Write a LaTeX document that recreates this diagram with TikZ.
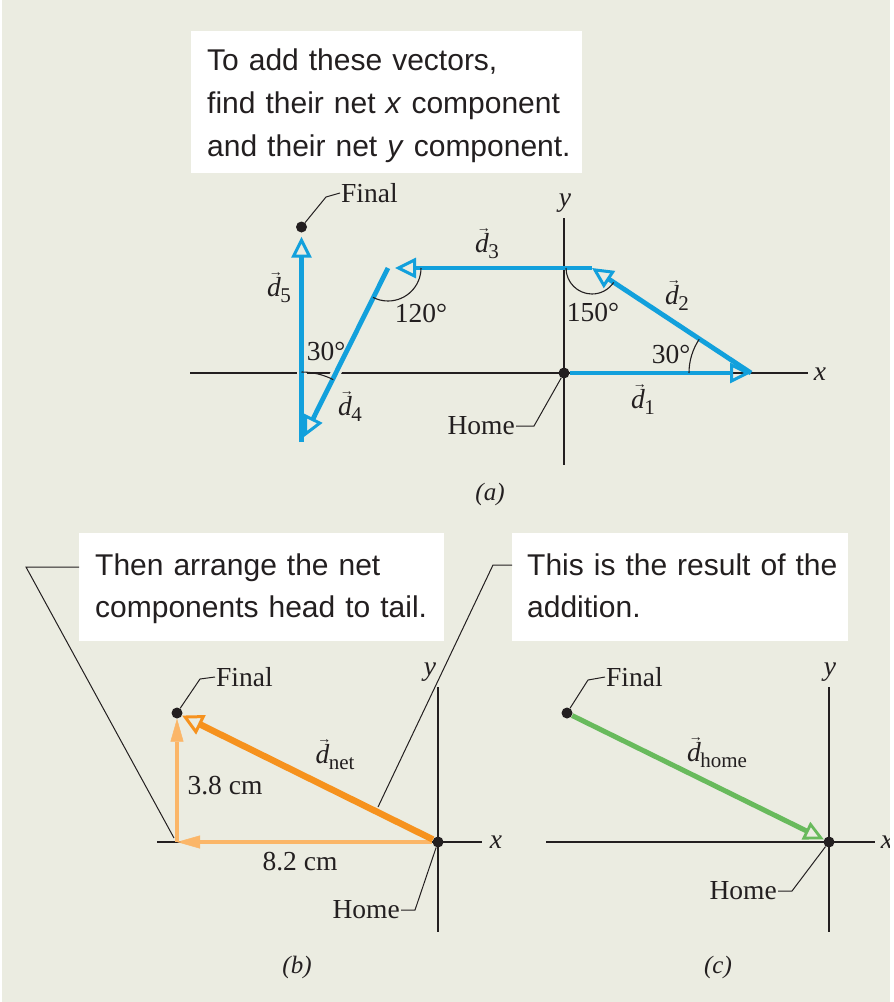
\documentclass[tikz,border=0pt]{standalone}
\usepackage{fontspec}
\setmainfont{Liberation Serif}
\setsansfont{Liberation Sans}
\usetikzlibrary{arrows.meta}
\definecolor{bgc}{RGB}{235,236,225}
\definecolor{ink}{RGB}{35,31,32}
\definecolor{vblue}{RGB}{18,160,220}
\definecolor{dorange}{RGB}{246,146,30}
\definecolor{lorange}{RGB}{251,182,104}
\definecolor{vgreen}{RGB}{104,186,92}
\newcommand\vd[1]{\textit{d}\llap{\raisebox{20pt}{\fontsize{14}{14}\selectfont →}\kern-2pt}\kern-0.5pt\raisebox{-6pt}{\fontsize{21}{21}\selectfont #1}}
\begin{document}
\begin{tikzpicture}[x=1pt,y=-1pt,
  every node/.style={inner sep=1pt, text=ink, font=\fontsize{27.5}{30}\selectfont},
  ax/.style={draw=ink, line width=1.5pt},
  lead/.style={draw=ink, line width=1pt},
  arcl/.style={draw=ink, line width=1.1pt},
  halo/.style={draw=bgc, line width=10pt},
  dotn/.style={circle, fill=ink, inner sep=0pt, minimum size=11pt},
  vecb/.style={draw=vblue, line width=4.8pt, -{Triangle[open, length=21pt, width=20pt, line width=3pt]}},
  comp/.style={draw=lorange, line width=4.5pt, -{Triangle[length=23pt, width=13pt, line width=0.5pt]}},
  dnetA/.style={draw=dorange, line width=6.5pt, -{Triangle[open, length=21pt, width=21pt, line width=3pt]}},
  dhomeA/.style={draw=vgreen, line width=5pt, -{Triangle[open, length=20pt, width=19pt, line width=2.8pt]}},
  tbox/.style={fill=white, inner sep=0pt, anchor=north west},
  btext/.style={font=\sffamily\fontsize{30}{43}\selectfont, align=left, inner sep=0pt, anchor=base west, text width=#1},
  captxt/.style={font=\fontsize{25}{28}\selectfont},
]
\useasboundingbox (0,0) rectangle (894,1002);
\fill[bgc] (0,0) rectangle (894,1002);

% ---------- coordinates ----------
\coordinate (p1) at (751,373);
\coordinate (p2) at (592,268);
\coordinate (p3t) at (395,268);
\coordinate (p3) at (388,268);
\coordinate (p4) at (304,437);
\coordinate (p5) at (301.5,442);
\coordinate (cb) at (177,842);

% ---------- text boxes ----------
\node[tbox, minimum width=391pt, minimum height=142pt] (boxa) at (190.5,30.5) {};
\node[btext=370pt] (txta) at (207,70) {To add these vectors,\\find their net \textit{x} component\\and their net \textit{y} component.};
\node[tbox, minimum width=365pt, minimum height=108pt] (boxb) at (79,533) {};
\node[btext=345pt, font=\sffamily\fontsize{30}{42}\selectfont] (txtb) at (95,575) {Then arrange the net\\components head to tail.};
\node[tbox, minimum width=336pt, minimum height=108pt] (boxc) at (512,533) {};
\node[btext=320pt, font=\sffamily\fontsize{30}{42}\selectfont] (txtc) at (527,575) {This is the result of the\\addition.};

% ---------- axes ----------
\draw[ax] (190,373) -- (808,373);
\draw[ax] (564,218) -- (564,465);
\draw[ax] (157,842) -- (482,842);
\draw[ax] (438,687) -- (438,932);
\draw[ax] (546,842) -- (875,842);
\draw[ax] (829,687) -- (829,932);

% ---------- dots ----------
\node[dotn] (ha) at (564,373) {};
\node[dotn] (fa) at (301.5,227) {};
\node[dotn] (hb) at (438,842) {};
\node[dotn] (fb) at (177,713) {};
\node[dotn] (hc) at (829,842) {};
\node[dotn] (fc) at (567,713) {};

% ---------- (a) vectors ----------
\draw[halo] (p5) -- (fa);
\draw[halo] (p3) -- (p4);
\draw[vecb] (ha) -- (p1);
\draw[vecb] (p1) -- (p2);
\draw[vecb] (p2) -- (p3t);
\draw[vecb] (p3) -- (p4);
\draw[vecb, shorten >=4pt] (p5) -- (fa);

% angle arcs
\draw[arcl] (301.5,372) arc[start angle=-90, end angle=-63, radius=70];
\draw[arcl] (421,268) arc[start angle=0, end angle=117, radius=33];
\draw[arcl] (566,268) arc[start angle=180, end angle=33.6, radius=26];
\draw[arcl] (689,373) arc[start angle=180, end angle=213.6, radius=61];

% labels (a)
\node (lfa) [anchor=west] at (340,193) {Final};
\node (lha) [anchor=east] at (516,426) {Home};
\node (ld1) at (643,400) {\vd{1}};
\node (ld2) at (677,296) {\vd{2}};
\node (ld3) at (487,244) {\vd{3}};
\node (ld4) at (350,407) {\vd{4}};
\node (ld5) at (279,288) {\vd{5}};
\node (a120) at (421,313) {120°};
\node (a30l) at (326,351) {30°};
\node (a150) at (593,312) {150°};
\node (a30r) at (671,354) {30°};
\node (ya) at (565,203) {\textit{y}};
\node (xa) at (820,374) {\textit{x}};
\node[captxt] (capa) at (490,494) {\textit{(a)}};
\coordinate (fak) at (326,197);
\draw[lead] (fa) -- (fak) -- (lfa.west);
\coordinate (hak) at (534,426);
\draw[lead] (lha.east) -- (hak) -- (ha);

% ---------- (b) ----------
\draw[comp] (hb) -- (cb);
\draw[comp] (cb) -- (fb);
\draw[dnetA] (hb) -- (fb);
\node (lfb) [anchor=west] at (215,677) {Final};
\node (lhb) [anchor=east] at (401,910) {Home};
\node (ldnet) at (335,755) {\vd{net}};
\node (l38) at (225,786) {3.8 cm};
\node (l82) at (300,862) {8.2 cm};
\node (yb) at (430,672) {\textit{y}};
\node (xb) at (496,842) {\textit{x}};
\node[captxt] (capb) at (297,967) {\textit{(b)}};
\coordinate (fbk) at (200,679);
\draw[lead] (fb) -- (fbk) -- (lfb.west);
\coordinate (hbk) at (415,910);
\draw[lead] (lhb.east) -- (hbk) -- (hb);

% ---------- (c) ----------
\draw[dhomeA] (fc) -- (hc);
\node (lfc) [anchor=west] at (605,677) {Final};
\node (lhc) [anchor=east] at (778,891) {Home};
\node (ldhome) at (717,753) {\vd{home}};
\node (yc) at (830,672) {\textit{y}};
\node (xc) at (887,842) {\textit{x}};
\node[captxt] (capc) at (718,967) {\textit{(c)}};
\coordinate (fck) at (588,680);
\draw[lead] (fc) -- (fck) -- (lfc.west);
\coordinate (hck) at (792,891);
\draw[lead] (lhc.east) -- (hck) -- (hc);

% ---------- long leaders from the boxes ----------
\coordinate (lbh) at (79,567);
\coordinate (lb1) at (26,567);
\coordinate (lbe) at (174,838);
\draw[lead] (lbh) -- (lb1) -- (lbe);
\coordinate (lch) at (512,565);
\coordinate (lc1) at (493,565);
\coordinate (lce) at (378,807);
\draw[lead] (lch) -- (lc1) -- (lce);

% white page edges
\fill[white] (890,0) rectangle (894,1002);
\fill[white] (0,0) rectangle (2,1002);
\end{tikzpicture}
\end{document}
